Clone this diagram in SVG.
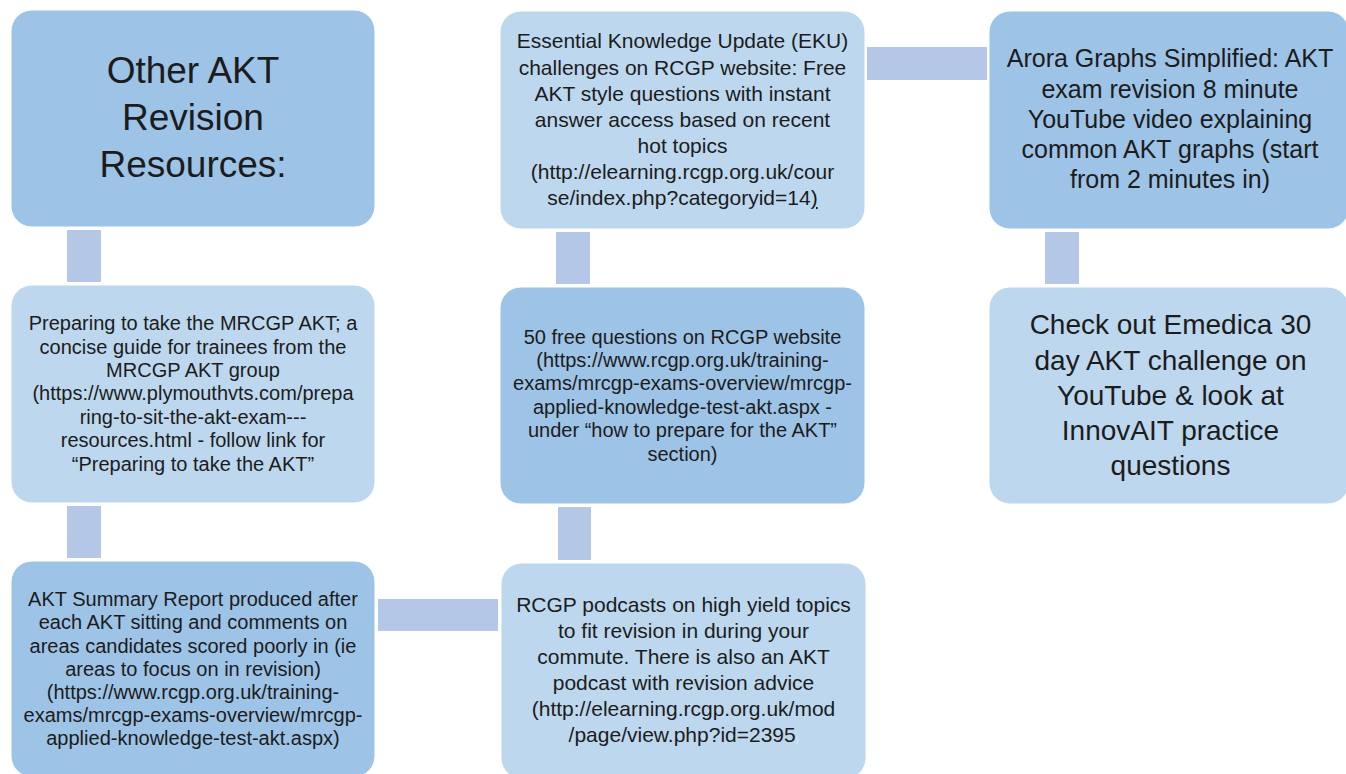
<svg xmlns="http://www.w3.org/2000/svg" width="1346" height="774" viewBox="0 0 1346 774">
<style>
.dark{fill:#9DC3E6;stroke:#ffffff;stroke-width:1}
.light{fill:#BDD7EE;stroke:#ffffff;stroke-width:1}
.conn{fill:#B4C7E7}
text{font-family:"Liberation Sans",Arial,sans-serif;fill:#1c1c1c;text-anchor:middle}
.t37{font-size:37px}
.t28{font-size:28px}
.t25{font-size:25px}
.t21{font-size:21px}
.t20{font-size:20px}
</style>
<rect width="1346" height="774" fill="#ffffff"/>
<g id="connectors">
<rect class="conn" x="67" y="230" width="34" height="52"/>
<rect class="conn" x="67" y="506" width="34" height="52"/>
<rect class="conn" x="378" y="599" width="120" height="32"/>
<rect class="conn" x="558" y="507" width="33" height="53"/>
<rect class="conn" x="556" y="232" width="34" height="52"/>
<rect class="conn" x="867" y="47" width="120" height="33"/>
<rect class="conn" x="1045" y="232" width="34" height="52"/>
</g>
<g id="node-other-akt">
<rect class="dark" x="11" y="10" width="364" height="217" rx="21"/>
<text class="t37" x="193" y="83">Other AKT</text>
<text class="t37" x="193" y="130">Revision</text>
<text class="t37" x="193" y="177">Resources:</text>
</g>
<g id="node-preparing">
<rect class="light" x="11" y="285" width="364" height="218" rx="21"/>
<text class="t20" x="193" y="330">Preparing to take the MRCGP AKT; a</text>
<text class="t20" x="193" y="353.5">concise guide for trainees from the</text>
<text class="t20" x="193" y="377">MRCGP AKT group</text>
<text class="t20" x="193" y="400">(https://www.plymouthvts.com/prepa</text>
<text class="t20" x="193" y="423.5">ring-to-sit-the-akt-exam---</text>
<text class="t20" x="193" y="447">resources.html - follow link for</text>
<text class="t20" x="193" y="470.5">“Preparing to take the AKT”</text>
</g>
<g id="node-summary-report">
<rect class="dark" x="11" y="561" width="364" height="216" rx="21"/>
<text class="t20" x="193" y="606">AKT Summary Report produced after</text>
<text class="t20" x="193" y="629.3">each AKT sitting and comments on</text>
<text class="t20" x="193" y="652.7">areas candidates scored poorly in (ie</text>
<text class="t20" x="193" y="675.5">areas to focus on in revision)</text>
<text class="t20" x="193" y="698.5">(https://www.rcgp.org.uk/training-</text>
<text class="t20" x="193" y="721.7">exams/mrcgp-exams-overview/mrcgp-</text>
<text class="t20" x="193" y="745">applied-knowledge-test-akt.aspx)</text>
</g>
<g id="node-eku">
<rect class="light" x="500" y="11" width="365" height="218" rx="21"/>
<text class="t21" x="682.5" y="48">Essential Knowledge Update (EKU)</text>
<text class="t21" x="682.5" y="74.5">challenges on RCGP website: Free</text>
<text class="t21" x="682.5" y="100.5">AKT style questions with instant</text>
<text class="t21" x="682.5" y="126.5">answer access based on recent</text>
<text class="t21" x="682.5" y="153">hot topics</text>
<text class="t21" x="682.5" y="179">(http://elearning.rcgp.org.uk/cour</text>
<text class="t21" x="682.5" y="205">se/index.php?categoryid=14<tspan text-decoration="underline">)</tspan></text>
</g>
<g id="node-50-free">
<rect class="dark" x="500" y="287" width="365" height="217" rx="21"/>
<text class="t20" x="682.5" y="343.5">50 free questions on RCGP website</text>
<text class="t20" x="682.5" y="367">(https://www.rcgp.org.uk/training-</text>
<text class="t20" x="682.5" y="390.3">exams/mrcgp-exams-overview/mrcgp-</text>
<text class="t20" x="682.5" y="413.7">applied-knowledge-test-akt.aspx -</text>
<text class="t20" x="682.5" y="437.3">under “how to prepare for the AKT”</text>
<text class="t20" x="682.5" y="461">section)</text>
</g>
<g id="node-podcasts">
<rect class="light" x="501" y="563" width="365" height="216" rx="21"/>
<text class="t21" x="683.5" y="611.7">RCGP podcasts on high yield topics</text>
<text class="t21" x="683.5" y="638">to fit revision in during your</text>
<text class="t21" x="683.5" y="664.3">commute. There is also an AKT</text>
<text class="t21" x="683.5" y="690">podcast with revision advice</text>
<text class="t21" x="683.5" y="716">(http://elearning.rcgp.org.uk/mod</text>
<text class="t21" x="683.5" y="741.7">/page/view.php?id=2395<tspan font-size="8" fill="#e8eef6">)</tspan></text>
</g>
<g id="node-arora">
<rect class="dark" x="989" y="11" width="360" height="218" rx="21"/>
<text class="t25" x="1170" y="66.7">Arora Graphs Simplified: AKT</text>
<text class="t25" x="1170" y="98.3">exam revision 8 minute</text>
<text class="t25" x="1170" y="128.3">YouTube video explaining</text>
<text class="t25" x="1170" y="158.3">common AKT graphs (start</text>
<text class="t25" x="1170" y="188.3">from 2 minutes in)</text>
</g>
<g id="node-emedica">
<rect class="light" x="989" y="287" width="360" height="217" rx="21"/>
<text class="t28" x="1170.5" y="333.5">Check out Emedica 30</text>
<text class="t28" x="1170.5" y="369.5">day AKT challenge on</text>
<text class="t28" x="1170.5" y="405">YouTube &amp; look at</text>
<text class="t28" x="1170.5" y="440">InnovAIT practice</text>
<text class="t28" x="1170.5" y="475">questions</text>
</g>
</svg>
